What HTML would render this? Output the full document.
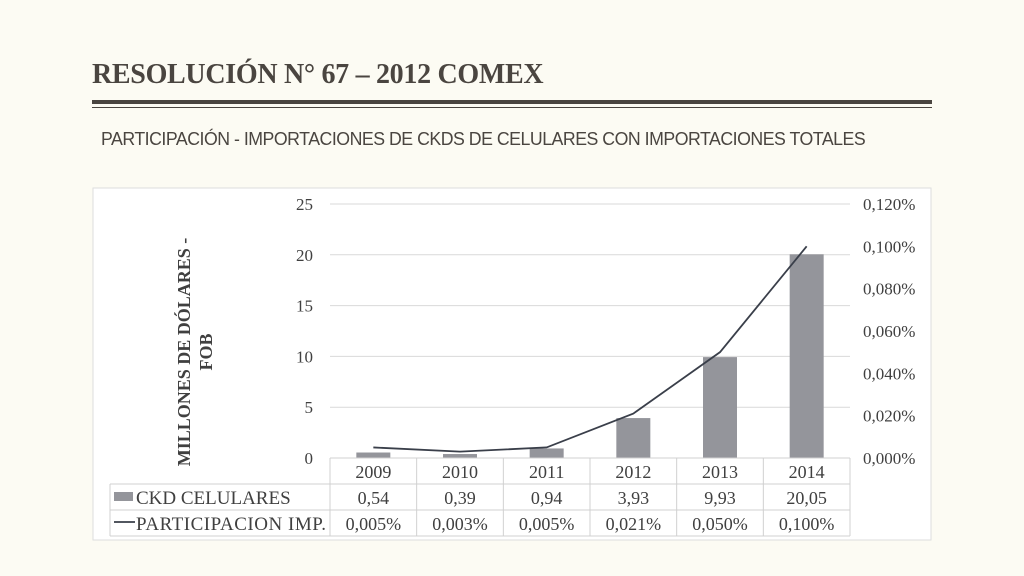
<!DOCTYPE html>
<html><head><meta charset="utf-8"><style>
body{margin:0;width:1024px;height:576px;background:#fcfbf3;overflow:hidden;position:relative;font-family:"Liberation Serif",serif}
.t{position:absolute}
</style></head><body>
<div class="t" style="left:92px;top:59px;font-size:28px;font-weight:bold;color:#4a4540;font-family:'Liberation Serif',serif;letter-spacing:-0.3px">RESOLUCIÓN N° 67 – 2012 COMEX</div>
<div class="t" style="left:92px;top:100px;width:840px;height:4px;background:#4a4540"></div>
<div class="t" style="left:92px;top:107px;width:840px;height:1px;background:#4a4540"></div>
<div class="t" style="left:101px;top:129px;font-size:18px;color:#4a4540;font-family:'Liberation Sans',sans-serif;letter-spacing:-0.5px;transform:scaleX(0.985);transform-origin:left">PARTICIPACIÓN - IMPORTACIONES DE CKDS DE CELULARES CON IMPORTACIONES TOTALES</div>
<svg class="t" style="left:0;top:0" width="1024" height="576" id="svg"></svg>
<script>
const categories=["2009","2010","2011","2012","2013","2014"];
const ckdValues=[0.54,0.39,0.94,3.93,9.93,20.05];
const partValues=[0.005,0.003,0.005,0.021,0.050,0.100];
const ckdLabels=["0,54","0,39","0,94","3,93","9,93","20,05"];
const partLabels=["0,005%","0,003%","0,005%","0,021%","0,050%","0,100%"];
const leftTicks=[0,5,10,15,20,25];
const rightTicks=[0,0.02,0.04,0.06,0.08,0.10,0.12];
const svg=document.getElementById('svg');const NS='http://www.w3.org/2000/svg';
function el(t,a,p){const e=document.createElementNS(NS,t);for(const k in a)e.setAttribute(k,a[k]);(p||svg).appendChild(e);return e;}
const x0=330,pw=520,y0=458,ph=254,cw=pw/categories.length;
const yL=v=>y0-v/25*ph, yR=v=>y0-v/0.12*ph, xc=i=>x0+cw*(i+0.5);
let r=el('rect',{x:93,y:188,width:838,height:352,fill:'#fff',stroke:'#ddd'});

leftTicks.forEach(v=>{let g=el('line',{x1:x0,x2:x0+pw,y1:yL(v),y2:yL(v),stroke:'#d9d9d9'});

let t=el('text',{x:313,y:yL(v)+6,'text-anchor':'end','font-size':17,fill:'#404040'});t.textContent=v;
});
rightTicks.forEach(v=>{let t=el('text',{x:863,y:yR(v)+6,'font-size':17,fill:'#404040'});t.textContent=(v*1).toFixed(3).replace('.',',')+'%';
});
let yt=el('text',{transform:'translate(190,352) rotate(-90)','text-anchor':'middle','font-size':18,'font-weight':'bold',fill:'#404040'});

let s1=el('tspan',{x:0,y:0},yt);s1.textContent='MILLONES DE DÓLARES -';let s2=el('tspan',{x:0,y:22},yt);s2.textContent='FOB';
ckdValues.forEach((v,i)=>{let b=el('rect',{x:xc(i)-17,y:yL(v),width:34,height:y0-yL(v),fill:'#94959b'});
});
let pl=el('polyline',{points:partValues.map((v,i)=>xc(i)+','+yR(v)).join(' '),fill:'none',stroke:'#3a3f4a','stroke-width':1.8});

const rows=[458,484,510,536];
[[x0,rows[0]],[110,rows[1]],[110,rows[2]],[110,rows[3]]].forEach(([x,y])=>{let l=el('line',{x1:x,x2:x0+pw,y1:y,y2:y,stroke:'#d0d0d0'});});
el('line',{x1:110,x2:110,y1:484,y2:536,stroke:'#d0d0d0'});
for(let i=0;i<=categories.length;i++){let l=el('line',{x1:x0+cw*i,x2:x0+cw*i,y1:458,y2:536,stroke:'#d0d0d0'});}
categories.forEach((c,i)=>{
[[c,478],[ckdLabels[i],504],[partLabels[i],530]].forEach(([s,y])=>{let t=el('text',{x:xc(i),y:y,'text-anchor':'middle','font-size':18,fill:'#404040'});t.textContent=s;
});});
let lk=el('rect',{x:114,y:492,width:19,height:9,fill:'#94959b'});
let ll=el('line',{x1:114,x2:135,y1:522,y2:522,stroke:'#3a3f4a','stroke-width':1.8});
let t1=el('text',{x:136,y:504,'font-size':19,fill:'#404040'});t1.textContent='CKD CELULARES';
let t2=el('text',{x:136,y:530,'font-size':19,fill:'#404040',textLength:190});t2.textContent='PARTICIPACION IMP.';
</script>
</body></html>
